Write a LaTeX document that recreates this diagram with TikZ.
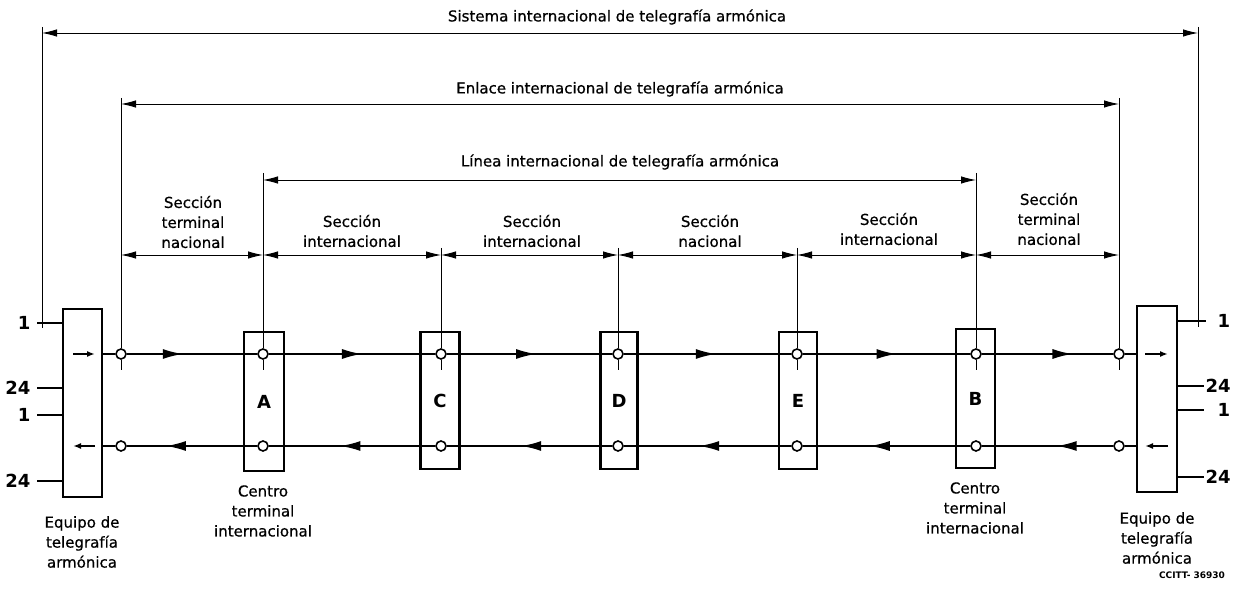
\documentclass[tikz,border=0pt]{standalone}
\usepackage{fontspec}
\setmainfont{DejaVu Sans}
\newfontfamily\medfont{DejaVu Sans}[FakeBold=0.7]
\usetikzlibrary{arrows.meta,decorations.markings}
\begin{document}
\begin{tikzpicture}[x=1pt,y=-1pt,
  dimln/.style={line width=0.9pt},
  dimarr/.style={dimln,{Latex[length=15pt,width=7.5pt]}-{Latex[length=15pt,width=7.5pt]}},
  sig/.style={line width=1.8pt},
  tickln/.style={line width=1.4pt},
  unitbox/.style={draw,line width=2.6pt,inner sep=0pt},
  port/.style={circle,draw,fill=white,line width=1.6pt,inner sep=0pt,minimum size=10pt},
  lbl/.style={font=\fontsize{15}{20}\selectfont\medfont,align=center},
  numl/.style={font=\fontsize{18}{20}\selectfont\bfseries},
  fwd/.style={postaction={decorate,decoration={markings,mark=at position #1 with {\arrow{Latex[length=20pt,width=10pt]}}}}},
  small/.style={line width=1.6pt,-{Latex[length=8pt,width=6pt]}}
]
\useasboundingbox (0,0) rectangle (1235,593);

% ---- boxes
\node[unitbox,minimum width=39pt,minimum height=188pt] (eqL) at (82.5,403) {};
\node[unitbox,minimum width=40pt,minimum height=186pt] (eqR) at (1157,399) {};
\node[unitbox,minimum width=40pt,minimum height=139pt,numl] (bA) at (264,401.5) {A};
\node[unitbox,minimum width=39pt,minimum height=137pt,numl] (bC) at (440,400.5) {C};
\node[unitbox,minimum width=37pt,minimum height=137pt,numl] (bD) at (619,400.5) {D};
\node[unitbox,minimum width=38pt,minimum height=137pt,numl] (bE) at (798,400.5) {E};
\node[unitbox,minimum width=39pt,minimum height=139pt,numl] (bB) at (975.5,398.5) {B};

% ---- ports
\foreach \n/\x in {L/121,A/263,C/441,D/618,E/797,B/976,R/1119}{
  \node[port] (p\n1) at (\x,354) {};
  \node[port] (p\n2) at (\x,446) {};
}

% ---- signal lines, top (rightwards)
\draw[sig] (eqL.east |- pL1) -- (pL1);
\draw[sig,fwd=0.43] (pL1) -- (pA1);
\draw[sig,fwd=0.56] (pA1) -- (pC1);
\draw[sig,fwd=0.54] (pC1) -- (pD1);
\draw[sig,fwd=0.55] (pD1) -- (pE1);
\draw[sig,fwd=0.56] (pE1) -- (pB1);
\draw[sig,fwd=0.69] (pB1) -- (pR1);
\draw[sig] (pR1) -- (eqR.west |- pR1);
% ---- signal lines, bottom (leftwards)
\draw[sig] (eqL.east |- pL2) -- (pL2);
\draw[sig,fwd=0.70] (pA2) -- (pL2);
\draw[sig,fwd=0.57] (pC2) -- (pA2);
\draw[sig,fwd=0.55] (pD2) -- (pC2);
\draw[sig,fwd=0.55] (pE2) -- (pD2);
\draw[sig,fwd=0.60] (pB2) -- (pE2);
\draw[sig,fwd=0.43] (pR2) -- (pB2);
\draw[sig] (pR2) -- (eqR.west |- pR2);

% ---- small arrows inside equipment
\draw[small] (73,354) -- (95,354);
\draw[small] (95,446) -- (73,446);
\draw[small] (1145,354) -- (1168,354);
\draw[small] (1168,446) -- (1145,446);

% ---- extension lines
\coordinate (tL) at (121,98);
\coordinate (tA) at (263,173);
\coordinate (tC) at (441,248);
\coordinate (tD) at (618,248);
\coordinate (tE) at (797,248);
\coordinate (tB) at (976,173);
\coordinate (tR) at (1119,98);
\foreach \n in {L,A,C,D,E,B,R}{
  \draw[dimln] (t\n) -- (p\n1);
  \draw[dimln] (p\n1) -- ++(0,16);
}
\coordinate (sysL) at (42,33);
\coordinate (sysR) at (1198,33);
\coordinate (sysLb) at (42,328);
\coordinate (sysRb) at (1198,327);
\draw[dimln] (42,27) -- (sysLb);
\draw[dimln] (1198,27) -- (sysRb);

% ---- dimension lines
\draw[dimarr] (sysL) -- (sysR);
\node[lbl] (tSis) at (617,17) {Sistema internacional de telegrafía armónica};
\coordinate (enL) at (121,104);
\coordinate (enR) at (1119,104);
\draw[dimarr] (enL) -- (enR);
\node[lbl] (tEnl) at (620,89) {Enlace internacional de telegrafía armónica};
\coordinate (liL) at (263,180);
\coordinate (liR) at (976,180);
\draw[dimarr] (liL) -- (liR);
\node[lbl] (tLin) at (620,162) {Línea internacional de telegrafía armónica};

\foreach \n/\x in {0/121,1/263,2/441,3/618,4/797,5/976,6/1119}{
  \coordinate (s\n) at (\x,255);
}
\draw[dimarr] (s0) -- (s1);
\draw[dimarr] (s1) -- (s2);
\draw[dimarr] (s2) -- (s3);
\draw[dimarr] (s3) -- (s4);
\draw[dimarr] (s4) -- (s5);
\draw[dimarr] (s5) -- (s6);

\node[lbl] (sec1) at (193,222) {Sección\\terminal\\nacional};
\node[lbl] (sec2) at (352,231) {Sección\\internacional};
\node[lbl] (sec3) at (532,231) {Sección\\internacional};
\node[lbl] (sec4) at (710,231) {Sección\\nacional};
\node[lbl] (sec5) at (889,229) {Sección\\internacional};
\node[lbl] (sec6) at (1049,219) {Sección\\terminal\\nacional};

% ---- channel ticks
\draw[tickln] (37,323) -- (eqL.west |- 0,323);
\draw[tickln] (37,388) -- (eqL.west |- 0,388);
\draw[tickln] (37,415) -- (eqL.west |- 0,415);
\draw[tickln] (37,481) -- (eqL.west |- 0,481);
\node[numl,anchor=east] (nl1) at (34,323) {1};
\node[numl,anchor=east] (nl2) at (34,388) {24};
\node[numl,anchor=east] (nl3) at (34,415) {1};
\node[numl,anchor=east] (nl4) at (34,481) {24};
\draw[tickln] (eqR.east |- 0,321) -- (1206,321);
\draw[tickln] (eqR.east |- 0,386) -- (1204,386);
\draw[tickln] (eqR.east |- 0,410) -- (1204,410);
\draw[tickln] (eqR.east |- 0,477) -- (1204,477);
\node[numl,anchor=west] (nr1) at (1214,321) {1};
\node[numl,anchor=west] (nr2) at (1202,386) {24};
\node[numl,anchor=west] (nr3) at (1214,410) {1};
\node[numl,anchor=west] (nr4) at (1202,477) {24};

% ---- bottom labels
\node[lbl] (lEqL) at (82,542) {Equipo de\\telegrafía\\armónica};
\node[lbl] (lEqR) at (1157,538) {Equipo de\\telegrafía\\armónica};
\node[lbl] (lCA) at (263,511) {Centro\\terminal\\internacional};
\node[lbl] (lCB) at (975,508) {Centro\\terminal\\internacional};
\node[font=\fontsize{9}{10}\selectfont\bfseries] (ref) at (1192,575) {CCITT- 36930};
\end{tikzpicture}
\end{document}
